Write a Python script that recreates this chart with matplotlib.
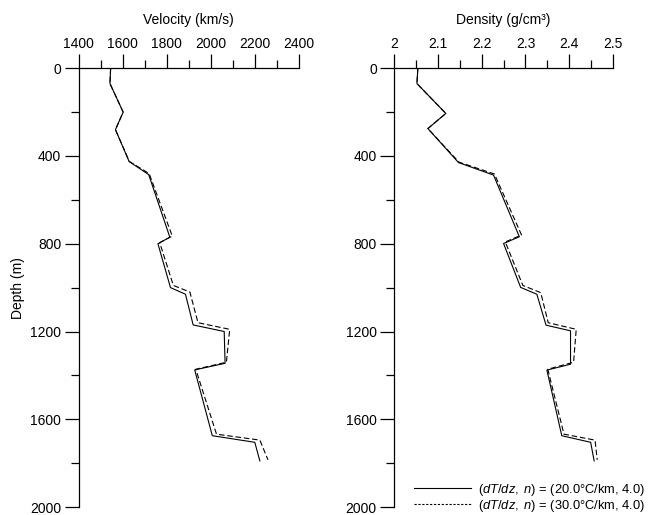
import matplotlib
matplotlib.use("Agg")
from matplotlib import pyplot as plt
from matplotlib.ticker import MultipleLocator
from matplotlib.lines import Line2D

plt.rcParams['font.family'] = ['Liberation Sans', 'DejaVu Sans']
plt.rcParams['mathtext.fontset'] = 'custom'
plt.rcParams['mathtext.it'] = 'Liberation Sans:italic'
plt.rcParams['mathtext.rm'] = 'Liberation Sans'

# velocity, (dT/dz, n) = (20.0, 4.0)
vel_depth_20 = [0, 70, 200, 280, 425, 485, 770, 800, 1000, 1030, 1170, 1200, 1345, 1375, 1675, 1705, 1790]
vel_20 = [1545, 1542, 1602, 1567, 1629, 1718, 1814, 1760, 1817, 1885, 1920, 2061, 2065, 1927, 2007, 2200, 2223]
# velocity, (30.0, 4.0)
vel_depth_30 = [0, 70, 200, 280, 425, 480, 765, 795, 990, 1020, 1160, 1190, 1340, 1372, 1668, 1695, 1785]
vel_30 = [1545, 1542, 1602, 1567, 1630, 1720, 1825, 1768, 1830, 1905, 1942, 2086, 2071, 1932, 2026, 2223, 2260]

# density
den_depth_20 = [0, 70, 206, 275, 430, 487, 768, 799, 999, 1030, 1171, 1197, 1349, 1376, 1675, 1705, 1790]
den_20 = [2.054, 2.052, 2.118, 2.077, 2.147, 2.227, 2.286, 2.250, 2.289, 2.326, 2.347, 2.403, 2.403, 2.349, 2.383, 2.449, 2.457]
den_depth_30 = [0, 70, 206, 275, 428, 482, 760, 792, 990, 1023, 1160, 1190, 1340, 1372, 1668, 1695, 1785]
den_30 = [2.054, 2.052, 2.118, 2.077, 2.148, 2.229, 2.291, 2.254, 2.294, 2.335, 2.352, 2.416, 2.410, 2.351, 2.388, 2.459, 2.464]

legend_labels = [r'($\it{dT/dz,\ n}$) = (20.0°C/km, 4.0)',
                 r'($\it{dT/dz,\ n}$) = (30.0°C/km, 4.0)']

dash = (0, (5, 2.5))

fig = plt.figure(figsize=(6.67, 5.15), dpi=100)
ax1 = fig.add_axes([0.118, 0.0155, 0.330, 0.852])
ax2 = fig.add_axes([0.591, 0.0155, 0.328, 0.852])


def style(ax, xlim, major, minor, label):
    ax.set_ylim(2000, 0)
    ax.set_xlim(*xlim)
    for s in ['right', 'bottom']:
        ax.spines[s].set_visible(False)
    for s in ['left', 'top']:
        ax.spines[s].set_linewidth(0.9)
    ax.xaxis.set_ticks_position('top')
    ax.xaxis.set_label_position('top')
    ax.xaxis.set_major_locator(MultipleLocator(major))
    ax.xaxis.set_minor_locator(MultipleLocator(minor))
    ax.yaxis.set_major_locator(MultipleLocator(400))
    ax.yaxis.set_minor_locator(MultipleLocator(200))
    ax.tick_params(which='major', direction='out', length=10, width=0.9, labelsize=10, pad=2.5)
    ax.tick_params(which='minor', direction='out', length=6, width=0.9)
    ax.set_xlabel(label, fontsize=10, labelpad=9)


ax1.plot(vel_20, vel_depth_20, color='black', lw=0.8)
ax1.plot(vel_30, vel_depth_30, color='black', lw=0.8, linestyle=dash)
style(ax1, (1400, 2400), 200, 100, 'Velocity (km/s)')
ax1.set_ylabel('Depth (m)', fontsize=10, labelpad=4)

ax2.plot(den_20, den_depth_20, color='black', lw=0.8)
ax2.plot(den_30, den_depth_30, color='black', lw=0.8, linestyle=dash)
style(ax2, (2.0, 2.5), 0.1, 0.05, 'Density (g/cm³)')
ax2.xaxis.set_major_formatter(plt.FuncFormatter(lambda v, p: f'{v:g}'))

handles = [Line2D([], [], color='black', lw=0.8),
           Line2D([], [], color='black', lw=0.8, linestyle=(0, (2, 1.5)))]
ax2.legend(handles, legend_labels, loc='lower left', bbox_to_anchor=(0.09, -0.015),
           frameon=False, fontsize=9.3, handlelength=4.4, handletextpad=0.6,
           labelspacing=0.0, borderpad=0, borderaxespad=0)

fig.savefig('out.png', dpi=100)
